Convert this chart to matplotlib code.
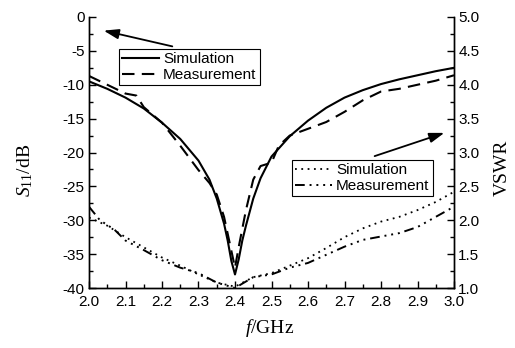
import matplotlib
matplotlib.use('Agg')
import matplotlib.pyplot as plt
from matplotlib.ticker import MultipleLocator

# S11 data (dB)
f_sim = [2.0, 2.05, 2.1, 2.15, 2.2, 2.25, 2.3, 2.33, 2.35, 2.37, 2.38, 2.39, 2.4,
         2.41, 2.42, 2.43, 2.45, 2.47, 2.5, 2.55, 2.6, 2.65, 2.7, 2.75, 2.8, 2.85,
         2.9, 2.95, 3.0]
s11_sim = [-9.5, -10.6, -11.9, -13.5, -15.6, -18.0, -21.2, -24.0, -26.8, -30.5, -33.0,
           -36.0, -38.0, -35.8, -33.0, -30.8, -26.8, -23.8, -20.6, -17.6, -15.3, -13.4,
           -11.9, -10.8, -9.9, -9.2, -8.6, -8.0, -7.5]

f_meas = [2.0, 2.05, 2.1, 2.13, 2.15, 2.2, 2.25, 2.3, 2.33, 2.35, 2.37, 2.39, 2.4,
          2.41, 2.43, 2.45, 2.47, 2.5, 2.52, 2.55, 2.6, 2.65, 2.7, 2.75, 2.8, 2.85,
          2.9, 2.95, 3.0]
s11_meas = [-8.7, -10.0, -11.3, -11.6, -13.3, -15.6, -19.0, -22.6, -24.5, -26.2, -29.5,
            -34.5, -37.0, -34.0, -28.5, -24.0, -22.0, -21.5, -19.0, -17.5, -16.5, -15.5,
            -14.0, -12.3, -11.0, -10.6, -10.0, -9.4, -8.6]

# VSWR data
f_vsim = [2.0, 2.05, 2.1, 2.15, 2.2, 2.25, 2.3, 2.35, 2.4, 2.45, 2.5, 2.55, 2.6,
          2.65, 2.7, 2.75, 2.8, 2.85, 2.9, 2.95, 3.0]
vswr_sim = [2.04, 1.92, 1.75, 1.6, 1.45, 1.33, 1.2, 1.08, 1.02, 1.16, 1.22, 1.33,
            1.44, 1.59, 1.75, 1.88, 1.98, 2.05, 2.15, 2.27, 2.42]

f_vmeas = [2.0, 2.03, 2.07, 2.1, 2.15, 2.2, 2.25, 2.3, 2.35, 2.4, 2.45, 2.5, 2.55,
           2.6, 2.65, 2.7, 2.75, 2.8, 2.85, 2.9, 2.95, 3.0]
vswr_meas = [2.2, 2.0, 1.86, 1.7, 1.56, 1.41, 1.3, 1.22, 1.08, 1.0, 1.16, 1.2, 1.3,
             1.37, 1.49, 1.61, 1.71, 1.76, 1.81, 1.9, 2.05, 2.2]

plt.rcParams['font.family'] = ['Liberation Sans', 'DejaVu Sans']
plt.rcParams['mathtext.fontset'] = 'custom'
plt.rcParams['mathtext.rm'] = 'Liberation Serif'
plt.rcParams['mathtext.it'] = 'Liberation Serif:italic'

fig = plt.figure(figsize=(5.15, 3.48), dpi=100)
ax = fig.add_axes([89 / 515, 60 / 348, 365 / 515, 271 / 348])
ax2 = ax.twinx()

ax.plot(f_sim, s11_sim, color='black', lw=1.5, label='Simulation')
ax.plot(f_meas, s11_meas, color='black', lw=1.5, linestyle=(0, (6, 3.5)), label='Measurement')
ax2.plot(f_vsim, vswr_sim, color='black', lw=1.3, linestyle=(0, (1, 2.5)), label='Simulation')
ax2.plot(f_vmeas, vswr_meas, color='black', lw=1.4,
         linestyle=(0, (5, 2.5, 1, 2.5, 1, 2.5, 1, 2.5)), label='Measurement')

ax.set_xlim(2.0, 3.0)
ax.set_ylim(-40, 0)
ax2.set_ylim(1.0, 5.0)

ax.xaxis.set_major_locator(MultipleLocator(0.1))
ax.xaxis.set_minor_locator(MultipleLocator(0.05))
ax.yaxis.set_major_locator(MultipleLocator(5))
ax.yaxis.set_minor_locator(MultipleLocator(2.5))
ax2.yaxis.set_major_locator(MultipleLocator(0.5))
ax2.yaxis.set_minor_locator(MultipleLocator(0.25))
ax.xaxis.set_major_formatter(plt.FuncFormatter(lambda v, p: f'{v:.1f}'))
ax.yaxis.set_major_formatter(plt.FuncFormatter(lambda v, p: f'{v:.0f}'))
ax2.yaxis.set_major_formatter(plt.FuncFormatter(lambda v, p: f'{v:.1f}'))

for a in (ax, ax2):
    a.spines['top'].set_visible(False)
    for s in a.spines.values():
        s.set_linewidth(1.0)
    a.tick_params(which='major', direction='in', length=5, width=1.0, labelsize=11, pad=3)
    a.tick_params(which='minor', direction='in', length=3, width=1.0)
ax.tick_params(axis='x', pad=5)
ax.tick_params(top=False, which='both')

fig.text(25 / 515, 1 - 170 / 348, r'$S_{\mathrm{11}}$/dB', rotation=90, ha='center', va='center',
         fontsize=14, family='Liberation Serif')
fig.text(502 / 515, 1 - 168 / 348, 'VSWR', rotation=90, ha='center', va='center',
         fontsize=14, family='Liberation Serif')
fig.text(270 / 515, 1 - 328 / 348, r'$f$/GHz', ha='center', va='center',
         fontsize=14, family='Liberation Serif')

leg1 = ax.legend(loc='upper left', bbox_to_anchor=(0.082, 0.882), borderaxespad=0,
                 fontsize=11, fancybox=False, edgecolor='black', framealpha=1,
                 handlelength=2.4, borderpad=0.2, labelspacing=0.15, handletextpad=0.3)
leg1.get_frame().set_linewidth(0.8)
leg2 = ax2.legend(loc='upper left', bbox_to_anchor=(0.556, 0.472), borderaxespad=0,
                  fontsize=11, fancybox=False, edgecolor='black', framealpha=1,
                  handlelength=2.4, borderpad=0.2, labelspacing=0.15, handletextpad=0.3)
leg2.get_frame().set_linewidth(0.8)

arrow = dict(arrowstyle='-|>,head_length=0.9,head_width=0.3', color='black', lw=1.3)
ax.annotate('', xy=(101, 348 - 30), xycoords='figure pixels',
            xytext=(175, 348 - 47), textcoords='figure pixels', arrowprops=arrow)
ax.annotate('', xy=(447, 348 - 132), xycoords='figure pixels',
            xytext=(372, 348 - 157), textcoords='figure pixels', arrowprops=arrow)

fig.savefig('out.png', dpi=100)
